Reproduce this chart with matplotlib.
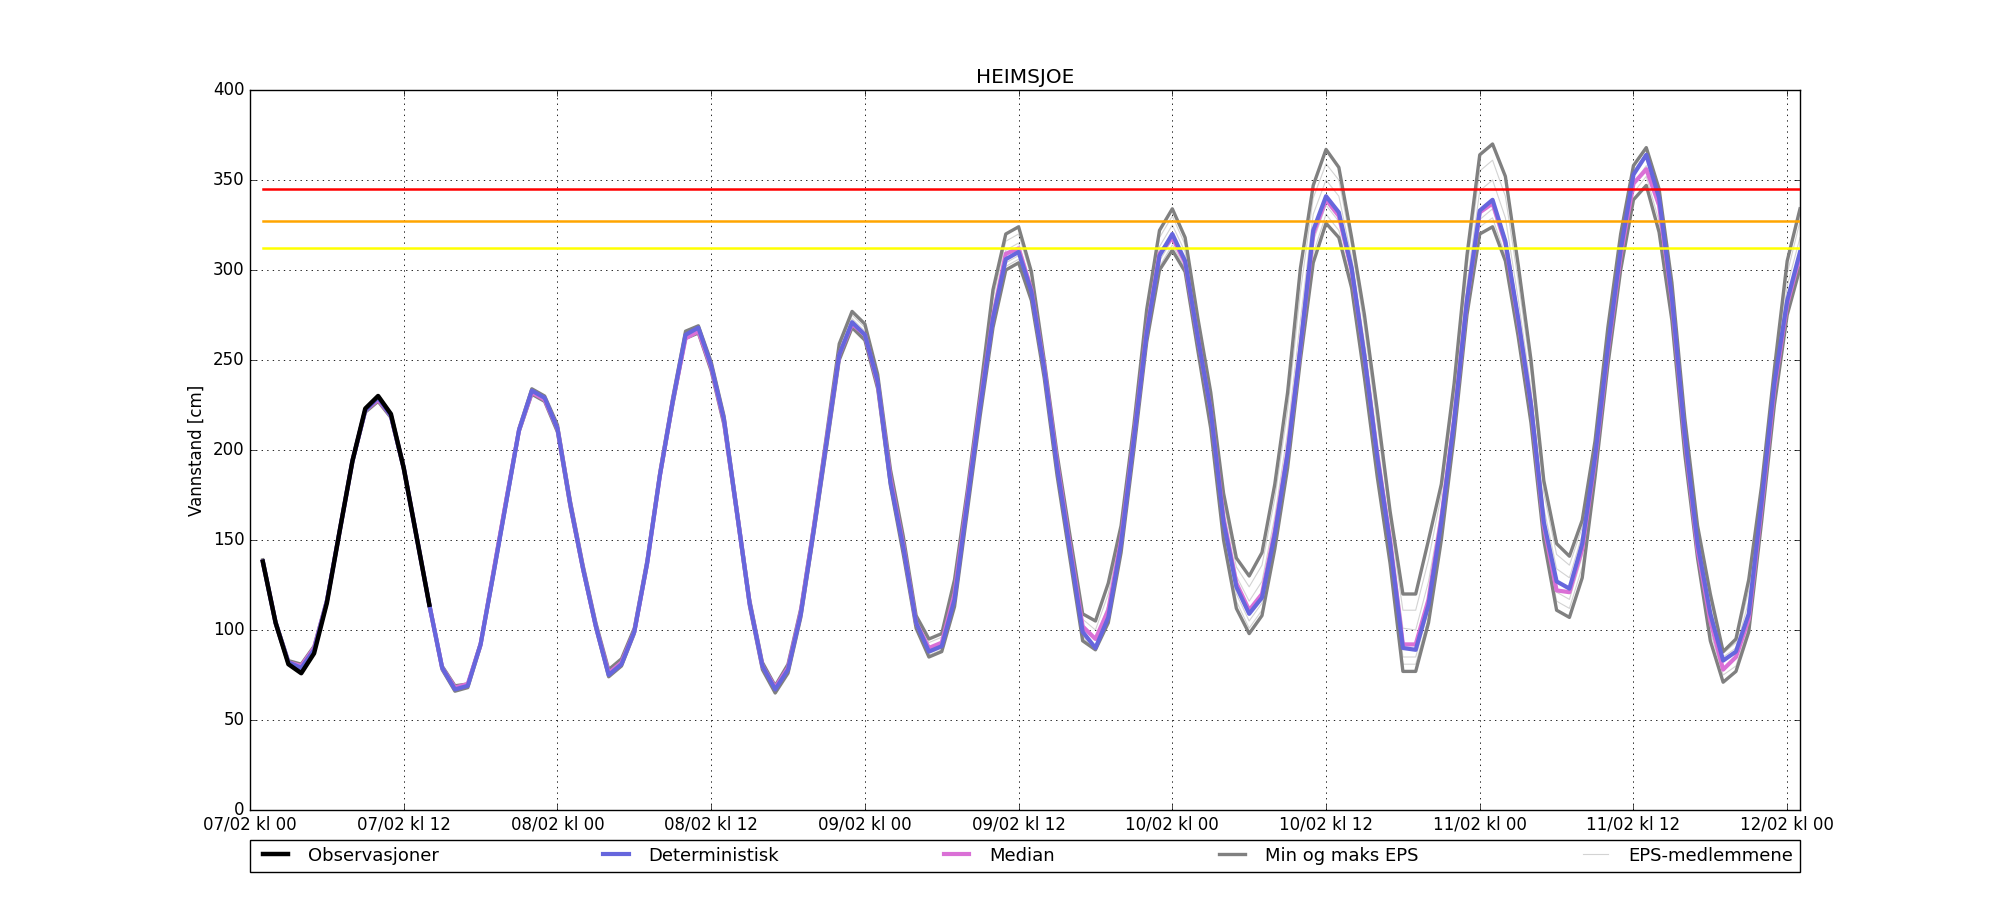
"""
HEIMSJOE water level: observations, deterministic run and EPS spread.
"""
import numpy as np
import matplotlib
matplotlib.use("Agg")
import matplotlib.pyplot as plt

plt.style.use("classic")

TITLE = "HEIMSJOE"
YLABEL = "Vannstand [cm]"

# hours after 07/02 kl 00
tick_hours = [0, 12, 24, 36, 48, 60, 72, 84, 96, 108, 120]
tick_labels = ["07/02 kl 00", "07/02 kl 12", "08/02 kl 00", "08/02 kl 12",
               "09/02 kl 00", "09/02 kl 12", "10/02 kl 00", "10/02 kl 12",
               "11/02 kl 00", "11/02 kl 12", "12/02 kl 00"]

obs_start = 1
observasjoner = [138, 104, 81, 76, 87, 115, 155, 194, 223, 230, 220, 190, 152, 114]

fc_start = 1
deterministisk = [
    138, 104, 82, 79, 89, 116, 155, 194, 222, 229,
    219, 190, 152, 114, 79, 67, 69, 92, 131, 171,
    211, 233, 229, 212, 170, 134, 102, 75, 81, 99,
    137, 186, 227, 264, 268, 247, 217, 166, 115, 80,
    67, 78, 109, 155, 204, 253, 271, 264, 238, 182,
    146, 104, 88, 91, 117, 171, 224, 273, 306, 310,
    288, 245, 191, 145, 99, 90, 107, 148, 206, 265,
    308, 320, 305, 262, 222, 160, 124, 109, 118, 153,
    198, 257, 322, 341, 332, 301, 252, 196, 148, 90,
    89, 114, 160, 216, 283, 333, 339, 316, 273, 225,
    160, 127, 123, 148, 196, 257, 311, 353, 364, 340,
    285, 209, 148, 109, 83, 88, 109, 171, 237, 283,
    310]
median = [
    138, 104, 82, 80, 90, 116, 155, 194, 222, 228,
    219, 190, 152, 114, 79, 68, 70, 92, 132, 172,
    211, 232, 228, 212, 170, 134, 102, 76, 82, 99,
    137, 186, 227, 262, 266, 246, 216, 166, 115, 80,
    68, 79, 110, 156, 205, 253, 270, 264, 237, 184,
    147, 104, 90, 93, 120, 173, 226, 274, 309, 312,
    289, 246, 193, 147, 102, 95, 111, 150, 207, 266,
    309, 318, 304, 262, 222, 162, 126, 111, 120, 155,
    199, 257, 320, 339, 330, 300, 252, 197, 150, 92,
    92, 117, 162, 217, 283, 332, 337, 315, 272, 225,
    158, 122, 121, 145, 194, 255, 308, 348, 356, 336,
    283, 207, 145, 105, 78, 85, 106, 168, 234, 281,
    308]
eps_min = [
    137, 103, 81, 78, 88, 115, 154, 193, 221, 227,
    218, 189, 151, 113, 78, 66, 68, 91, 130, 170,
    210, 231, 227, 210, 168, 133, 101, 74, 80, 98,
    136, 185, 225, 262, 265, 244, 214, 164, 113, 78,
    65, 76, 107, 153, 201, 250, 268, 261, 234, 180,
    142, 101, 85, 88, 113, 166, 219, 268, 300, 304,
    283, 240, 186, 140, 94, 89, 104, 143, 200, 260,
    300, 311, 299, 255, 212, 150, 112, 98, 108, 145,
    190, 250, 304, 326, 318, 290, 240, 185, 137, 77,
    77, 104, 150, 208, 275, 320, 324, 305, 263, 215,
    150, 111, 107, 129, 185, 247, 300, 339, 347, 321,
    272, 198, 140, 94, 71, 77, 99, 160, 225, 275,
    301]
eps_max = [
    139, 105, 83, 81, 91, 117, 156, 195, 223, 230,
    220, 191, 153, 115, 80, 69, 70, 93, 133, 173,
    212, 234, 230, 214, 172, 136, 104, 78, 84, 101,
    139, 188, 229, 266, 269, 249, 219, 168, 117, 82,
    69, 81, 112, 158, 208, 259, 277, 270, 242, 189,
    152, 108, 95, 98, 128, 178, 232, 289, 320, 324,
    299, 250, 198, 153, 109, 105, 126, 158, 214, 278,
    322, 334, 318, 273, 232, 176, 140, 130, 143, 181,
    232, 301, 347, 367, 357, 318, 275, 222, 166, 120,
    120, 150, 181, 237, 308, 364, 370, 352, 303, 250,
    183, 148, 141, 161, 205, 268, 320, 358, 368, 345,
    293, 218, 158, 120, 88, 95, 128, 180, 245, 305,
    334]

# a few of the EPS members (they overlap the main lines before hour 45)
member_start = 45
eps_member_1 = [
    207, 257, 275, 268, 241, 187, 150, 107, 93, 96,
    125, 176, 230, 284, 316, 320, 296, 249, 196, 151,
    106, 100, 120, 155, 212, 274, 318, 330, 314, 270,
    229, 171, 135, 124, 136, 173, 222, 288, 340, 359,
    350, 313, 268, 214, 161, 111, 111, 139, 175, 231,
    301, 355, 361, 341, 294, 243, 176, 142, 136, 157,
    202, 265, 317, 357, 367, 344, 291, 215, 155, 117,
    87, 93, 122, 177, 243, 298, 327]
eps_member_2 = [
    205, 255, 273, 266, 239, 184, 148, 105, 90, 93,
    121, 173, 227, 279, 311, 315, 292, 247, 193, 148,
    103, 95, 114, 152, 209, 270, 313, 325, 310, 266,
    226, 166, 130, 116, 127, 163, 210, 272, 331, 350,
    341, 307, 260, 205, 154, 101, 100, 127, 167, 223,
    292, 344, 350, 329, 284, 234, 168, 134, 129, 153,
    199, 261, 314, 355, 365, 342, 288, 212, 152, 113,
    85, 90, 116, 174, 240, 291, 318]
eps_member_3 = [
    203, 252, 270, 263, 237, 181, 145, 103, 87, 90,
    116, 169, 222, 271, 304, 308, 286, 243, 189, 143,
    97, 90, 106, 146, 204, 263, 305, 317, 303, 260,
    218, 157, 120, 105, 115, 150, 195, 255, 316, 336,
    327, 297, 248, 192, 144, 85, 85, 111, 157, 213,
    280, 328, 334, 312, 270, 222, 157, 121, 117, 141,
    192, 254, 307, 348, 358, 333, 280, 205, 145, 104,
    79, 84, 106, 167, 233, 280, 307]
eps_member_4 = [
    202, 251, 269, 262, 235, 181, 143, 102, 86, 89,
    114, 168, 221, 270, 302, 306, 285, 242, 188, 142,
    96, 89, 105, 145, 202, 262, 302, 314, 301, 257,
    215, 153, 116, 101, 111, 147, 192, 252, 309, 331,
    322, 293, 244, 188, 140, 81, 81, 107, 153, 210,
    277, 324, 329, 308, 266, 218, 153, 116, 112, 135,
    188, 250, 303, 343, 352, 327, 276, 201, 142, 99,
    75, 80, 102, 163, 229, 277, 304]

thresholds = [345, 327, 312]
threshold_colors = ["red", "orange", "yellow"]

C_OBS = "black"
C_DET = "#6666dd"
C_MED = "#da70d6"
C_MINMAX = "#808080"
C_MEMBER = "#d3d3d3"


def hours(start, values):
    return np.arange(start, start + len(values))


def main():
    fig = plt.figure(figsize=(20, 9), facecolor="white")
    ax = fig.add_axes([0.125, 0.1, 0.775, 0.8])

    members = [eps_member_1, eps_member_2, eps_member_3, eps_member_4]
    for i, m in enumerate(members):
        ax.plot(hours(member_start, m), m, color=C_MEMBER, linewidth=0.8,
                label="EPS-medlemmene" if i == 0 else None, zorder=2)
    ax.plot(hours(fc_start, eps_min), eps_min, color=C_MINMAX, linewidth=2.4,
            label="Min og maks EPS", zorder=3)
    ax.plot(hours(fc_start, eps_max), eps_max, color=C_MINMAX, linewidth=2.4, zorder=3)
    ax.plot(hours(fc_start, median), median, color=C_MED, linewidth=3,
            label="Median", zorder=4)
    ax.plot(hours(fc_start, deterministisk), deterministisk, color=C_DET,
            linewidth=3, label="Deterministisk", zorder=5)
    ax.plot(hours(obs_start, observasjoner), observasjoner, color=C_OBS,
            linewidth=3.2, label="Observasjoner", zorder=6)

    fc_hours = hours(fc_start, deterministisk)
    for level, col in zip(thresholds, threshold_colors):
        ax.plot([fc_hours[0], fc_hours[-1]], [level, level], color=col,
                linewidth=1.8, zorder=7)

    ax.set_xlim(0, fc_hours[-1])
    ax.set_ylim(0, 400)
    ax.set_yticks(np.arange(0, 401, 50))
    ax.set_xticks(tick_hours)
    ax.set_xticklabels(tick_labels)
    ax.grid(True, color="black", linestyle=":", linewidth=0.6)
    ax.set_title(TITLE, fontsize=14.4)
    ax.set_ylabel(YLABEL, fontsize=12)

    handles, labels = ax.get_legend_handles_labels()
    order = ["Observasjoner", "Deterministisk", "Median", "Min og maks EPS",
             "EPS-medlemmene"]
    hmap = dict(zip(labels, handles))
    ax.legend([hmap[k] for k in order], order, loc="upper left",
              bbox_to_anchor=(0, -0.041, 1, 0.0), mode="expand", ncol=5,
              borderaxespad=0, fontsize=13, fancybox=False, framealpha=1,
              edgecolor="black")

    fig.savefig("out.png", dpi=100, facecolor="white")


if __name__ == "__main__":
    main()
